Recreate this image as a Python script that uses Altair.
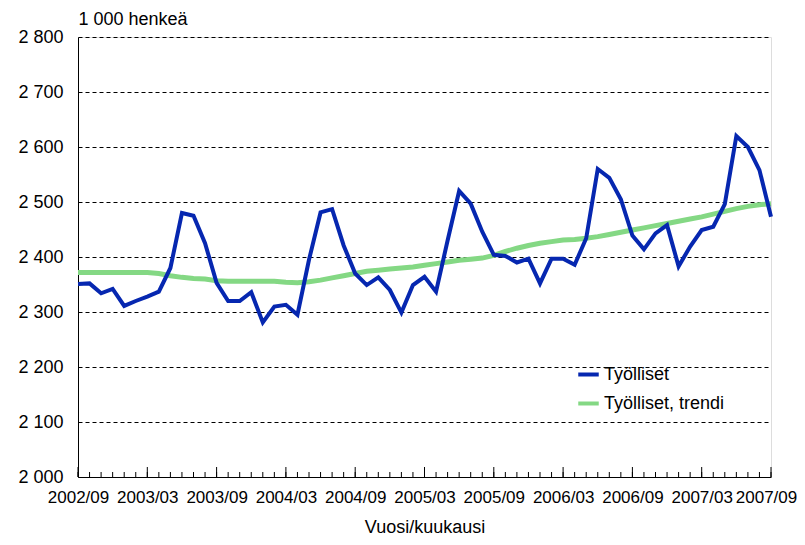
import altair as alt
import pandas as pd

# Months 2002/09 .. 2007/09
months = []
y, m = 2002, 9
for _ in range(61):
    months.append(f"{y}/{m:02d}")
    m += 1
    if m > 12:
        m = 1
        y += 1

tyolliset = [2351, 2352, 2334, 2342, 2311, 2320, 2328, 2337, 2380, 2480,
             2475, 2425, 2353, 2320, 2320, 2336, 2281, 2310, 2313, 2295,
             2395, 2481, 2487, 2421, 2370, 2349, 2363, 2340, 2299, 2349,
             2364, 2337, 2430, 2520, 2497, 2446, 2404, 2402, 2390, 2397,
             2352, 2397, 2397, 2386, 2434, 2560, 2544, 2505, 2439, 2414,
             2443, 2458, 2383, 2419, 2449, 2455, 2496, 2620, 2600, 2558,
             2473]

trendi = [2372, 2372, 2372, 2372, 2372, 2372, 2372, 2370, 2366, 2363,
          2361, 2360, 2357, 2356, 2356, 2356, 2356, 2356, 2354, 2353,
          2355, 2358, 2362, 2366, 2370, 2374, 2376, 2378, 2380, 2382,
          2385, 2388, 2391, 2394, 2396, 2398, 2403, 2410, 2416, 2421,
          2425, 2428, 2431, 2432, 2434, 2437, 2441, 2445, 2449, 2453,
          2457, 2461, 2465, 2469, 2473, 2478, 2483, 2488, 2492, 2495,
          2497]

series_names = ["Työlliset", "Työlliset, trendi"]
colors = ["#0627b0", "#84d884"]

df_main = pd.DataFrame({"kk": months, "arvo": tyolliset, "sarja": series_names[0]})
df_trend = pd.DataFrame({"kk": months, "arvo": trendi, "sarja": series_names[1]})
df_ticks = pd.DataFrame({"kk": months})
df_ticks["major"] = df_ticks["kk"].str.endswith("/03") | df_ticks["kk"].str.endswith("/09")

W, H = 693, 440
FONT = "Liberation Sans"

xscale = alt.Scale(type="point", padding=0)
yscale = alt.Scale(domain=[2000, 2800])

x_axis = alt.Axis(
    title="Vuosi/kuukausi",
    labelExpr="(slice(datum.value, -2) == '03' || slice(datum.value, -2) == '09') ? datum.value : ''",
    labelAngle=0, labelOverlap=False, ticks=False, grid=False,
    labelFontSize=17, titleFontSize=18, titleFontWeight="normal",
    labelOffset={"condition": {"test": f"datum.value == '{months[-1]}'", "value": -5}, "value": 0},
    labelPadding=12, titlePadding=13, domainColor="black", labelColor="black",
    titleColor="black", labelFont=FONT, titleFont=FONT,
)
y_axis = alt.Axis(
    title="1 000 henkeä", values=list(range(2000, 2801, 100)),
    labelExpr="replace(format(datum.value, ','), ',', ' ')",
    ticks=False, grid=True, gridColor="black", gridDash=[4, 3], gridWidth=1,
    labelFontSize=18, labelPadding=15, domainColor="black", labelColor="black",
    titleAngle=0, titleX=0, titleY=-9, titleAlign="left", titleBaseline="bottom",
    titleFontSize=18, titleFontWeight="normal", titleColor="black",
    labelFont=FONT, titleFont=FONT,
)

color = alt.Color("sarja:N", scale=alt.Scale(domain=series_names, range=colors),
                  legend=alt.Legend(title=None, orient="none", legendX=498, legendY=325,
                                    symbolType="stroke", symbolSize=420,
                                    symbolStrokeWidth=4, labelFontSize=18,
                                    labelFont=FONT, labelColor="black",
                                    rowPadding=7, labelOffset=3))

trend_line = alt.Chart(df_trend).mark_line(strokeWidth=5).encode(
    x=alt.X("kk:O", sort=months, scale=xscale, axis=x_axis),
    y=alt.Y("arvo:Q", scale=yscale, axis=y_axis),
    color=color,
)
main_line = alt.Chart(df_main).mark_line(strokeWidth=4).encode(
    x=alt.X("kk:O", sort=months, scale=xscale),
    y=alt.Y("arvo:Q", scale=yscale),
    color=color,
)
minor_ticks = alt.Chart(df_ticks).mark_rule(color="black", strokeWidth=1).encode(
    x=alt.X("kk:O", sort=months, scale=xscale),
    y=alt.value(H), y2=alt.value(H - 5),
)
major_ticks = alt.Chart(df_ticks).transform_filter("datum.major").mark_rule(
    color="black", strokeWidth=1).encode(
    x=alt.X("kk:O", sort=months, scale=xscale),
    y=alt.value(H), y2=alt.value(H - 10),
)

chart = alt.layer(trend_line, main_line, minor_ticks, major_ticks).properties(
    width=W, height=H,
    autosize=alt.AutoSizeParams(type="none"),
    padding={"left": 70, "top": 29, "right": 26, "bottom": 60},
).configure_view(stroke="black", strokeWidth=1).configure(background="white")

chart.save("out.html", embed_options={"renderer": "svg", "actions": False})
